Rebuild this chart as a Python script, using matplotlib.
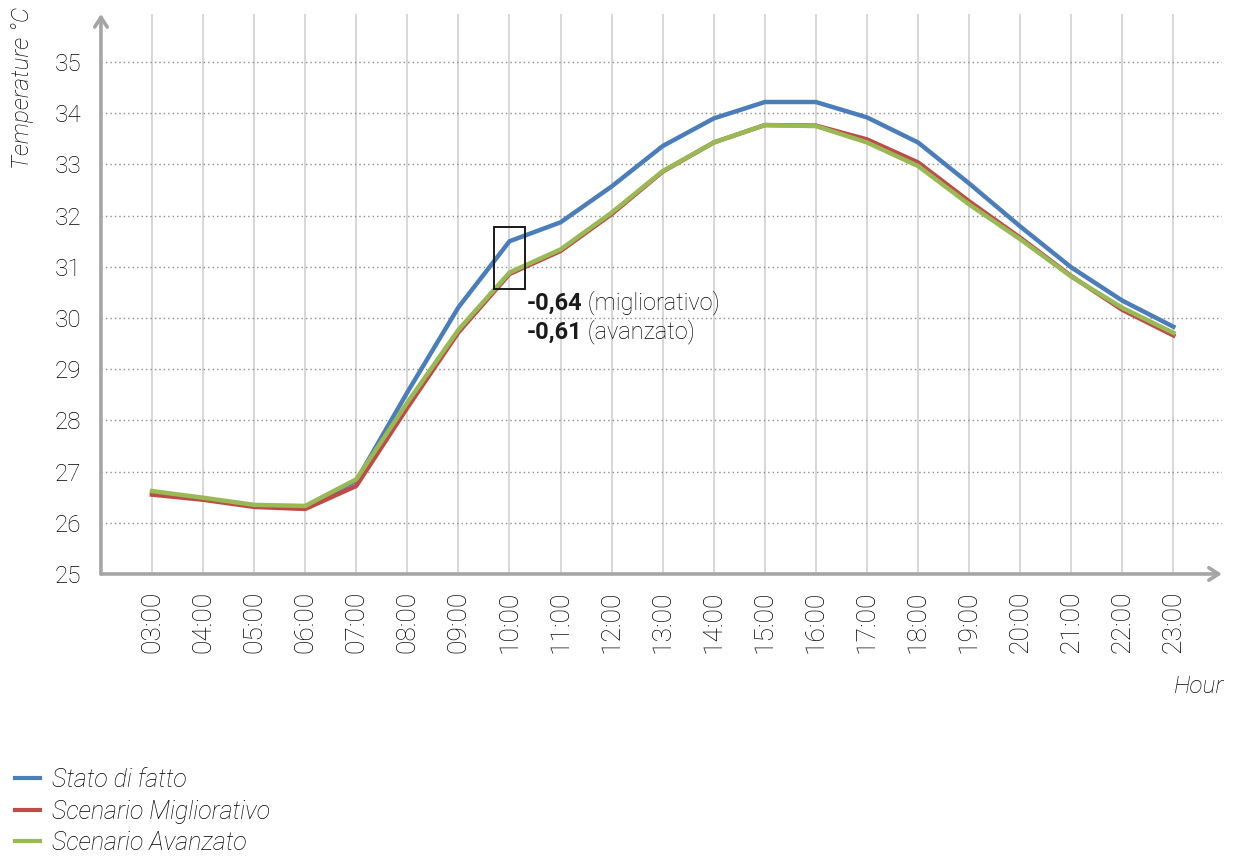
import matplotlib
matplotlib.use("Agg")
import matplotlib.pyplot as plt
from matplotlib.lines import Line2D

plt.rcParams['font.family'] = ['Roboto', 'DejaVu Sans']

hours = ["03:00", "04:00", "05:00", "06:00", "07:00", "08:00", "09:00", "10:00",
         "11:00", "12:00", "13:00", "14:00", "15:00", "16:00", "17:00", "18:00",
         "19:00", "20:00", "21:00", "22:00", "23:00"]

stato_di_fatto = [26.58, 26.47, 26.33, 26.31, 26.82, 28.55, 30.21, 31.50, 31.87, 32.57,
                  33.36, 33.90, 34.22, 34.22, 33.92, 33.43, 32.63, 31.79, 30.99, 30.34, 29.83]
scenario_migliorativo = [26.55, 26.45, 26.31, 26.27, 26.72, 28.25, 29.72, 30.86, 31.31, 32.03,
                         32.86, 33.43, 33.77, 33.76, 33.49, 33.04, 32.28, 31.57, 30.82, 30.16, 29.66]
scenario_avanzato = [26.62, 26.49, 26.35, 26.33, 26.85, 28.35, 29.77, 30.89, 31.34, 32.06,
                     32.87, 33.43, 33.77, 33.75, 33.43, 32.97, 32.22, 31.54, 30.81, 30.20, 29.71]

series_labels = ["Stato di fatto", "Scenario Migliorativo", "Scenario Avanzato"]
series_colors = ["#4A7EBB", "#BE4B48", "#98B954"]
y_ticks = list(range(25, 36))

highlight_hour = "10:00"

TXT = '#000000'

fig = plt.figure(figsize=(12.34, 8.63), dpi=100)
ax = fig.add_axes([0.0818, 0.3349, 0.9084, 0.6489])

x = list(range(len(hours)))
for vals, lab, col in zip([stato_di_fatto, scenario_migliorativo, scenario_avanzato],
                          series_labels, series_colors):
    ax.plot(x, vals, color=col, lw=3.2, label=lab, solid_joinstyle='round', zorder=3)

ax.set_xlim(-1, len(hours) - 0.05)
ax.set_ylim(25, 35.94)
ax.set_xticks(x)
ax.set_xticklabels(hours, rotation=90, fontsize=19, fontweight='light', color=TXT)
ax.set_yticks(y_ticks)
ax.set_yticklabels([str(v) for v in y_ticks], fontsize=17.5, fontweight='light', color=TXT)
ax.tick_params(axis='both', length=0)
ax.tick_params(axis='x', pad=12)
ax.tick_params(axis='y', pad=14)

# grids: solid light vertical lines, dotted horizontal lines
for xi in x:
    ax.axvline(xi, color='#d4d4d4', lw=1.3, zorder=1)
for yv in y_ticks[1:]:
    ax.axhline(yv, color='#8c8c8c', lw=1.0, ls=(0, (1, 2.2)), zorder=1)

for s in ax.spines.values():
    s.set_visible(False)

# axis lines with arrow heads
axis_col = '#a5a5a5'
ax.annotate('', xy=(0, 1.0), xycoords='axes fraction', xytext=(0, 0),
            arrowprops=dict(arrowstyle='->,head_length=0.7,head_width=0.45',
                            color=axis_col, lw=2.6, shrinkA=0, shrinkB=0), zorder=4)
ax.annotate('', xy=(1.0, 0), xycoords='axes fraction', xytext=(0, 0),
            arrowprops=dict(arrowstyle='->,head_length=0.7,head_width=0.45',
                            color=axis_col, lw=2.6, shrinkA=0, shrinkB=0), zorder=4)

# highlight box around the 10:00 values
hi = hours.index(highlight_hour)
ax.add_patch(plt.Rectangle((hi - 0.3, 30.56), 0.6, 1.21, fill=False,
                           edgecolor='#1a1a1a', lw=1.4, zorder=5))

d_migl = scenario_migliorativo[hi] - stato_di_fatto[hi]
d_avan = scenario_avanzato[hi] - stato_di_fatto[hi]
fmt = lambda v: f"{v:.2f}".replace('.', ',')

t1 = ax.text(hi + 0.33, 30.28, fmt(d_migl), fontsize=17, fontweight='bold',
             color='#1a1a1a', va='center', ha='left', zorder=6)
ax.annotate(" (migliorativo)", xy=(1, 0), xycoords=t1, va='bottom', ha='left',
            fontsize=17, fontweight='light', color=TXT)
t2 = ax.text(hi + 0.33, 29.72, fmt(d_avan), fontsize=17, fontweight='bold',
             color='#1a1a1a', va='center', ha='left', zorder=6)
ax.annotate(" (avanzato)", xy=(1, 0), xycoords=t2, va='bottom', ha='left',
            fontsize=17, fontweight='light', color=TXT)

fig.text(0.018, 0.992, "Temperature °C", rotation=90, va='top', ha='center',
         fontsize=17.5, style='italic', fontweight='light', color=TXT)
fig.text(0.992, 0.205, "Hour", ha='right', va='center',
         fontsize=17.5, style='italic', fontweight='light', color=TXT)

handles = [Line2D([], [], color=c, lw=3) for c in series_colors]
fig.legend(handles, series_labels, loc='upper left', bbox_to_anchor=(0.012, 0.110),
           frameon=False, handlelength=1.0, handletextpad=0.48, labelspacing=0.30,
           borderaxespad=0, borderpad=0,
           prop=dict(size=18, style='italic', weight='light'))

fig.savefig("out.png", dpi=100)
